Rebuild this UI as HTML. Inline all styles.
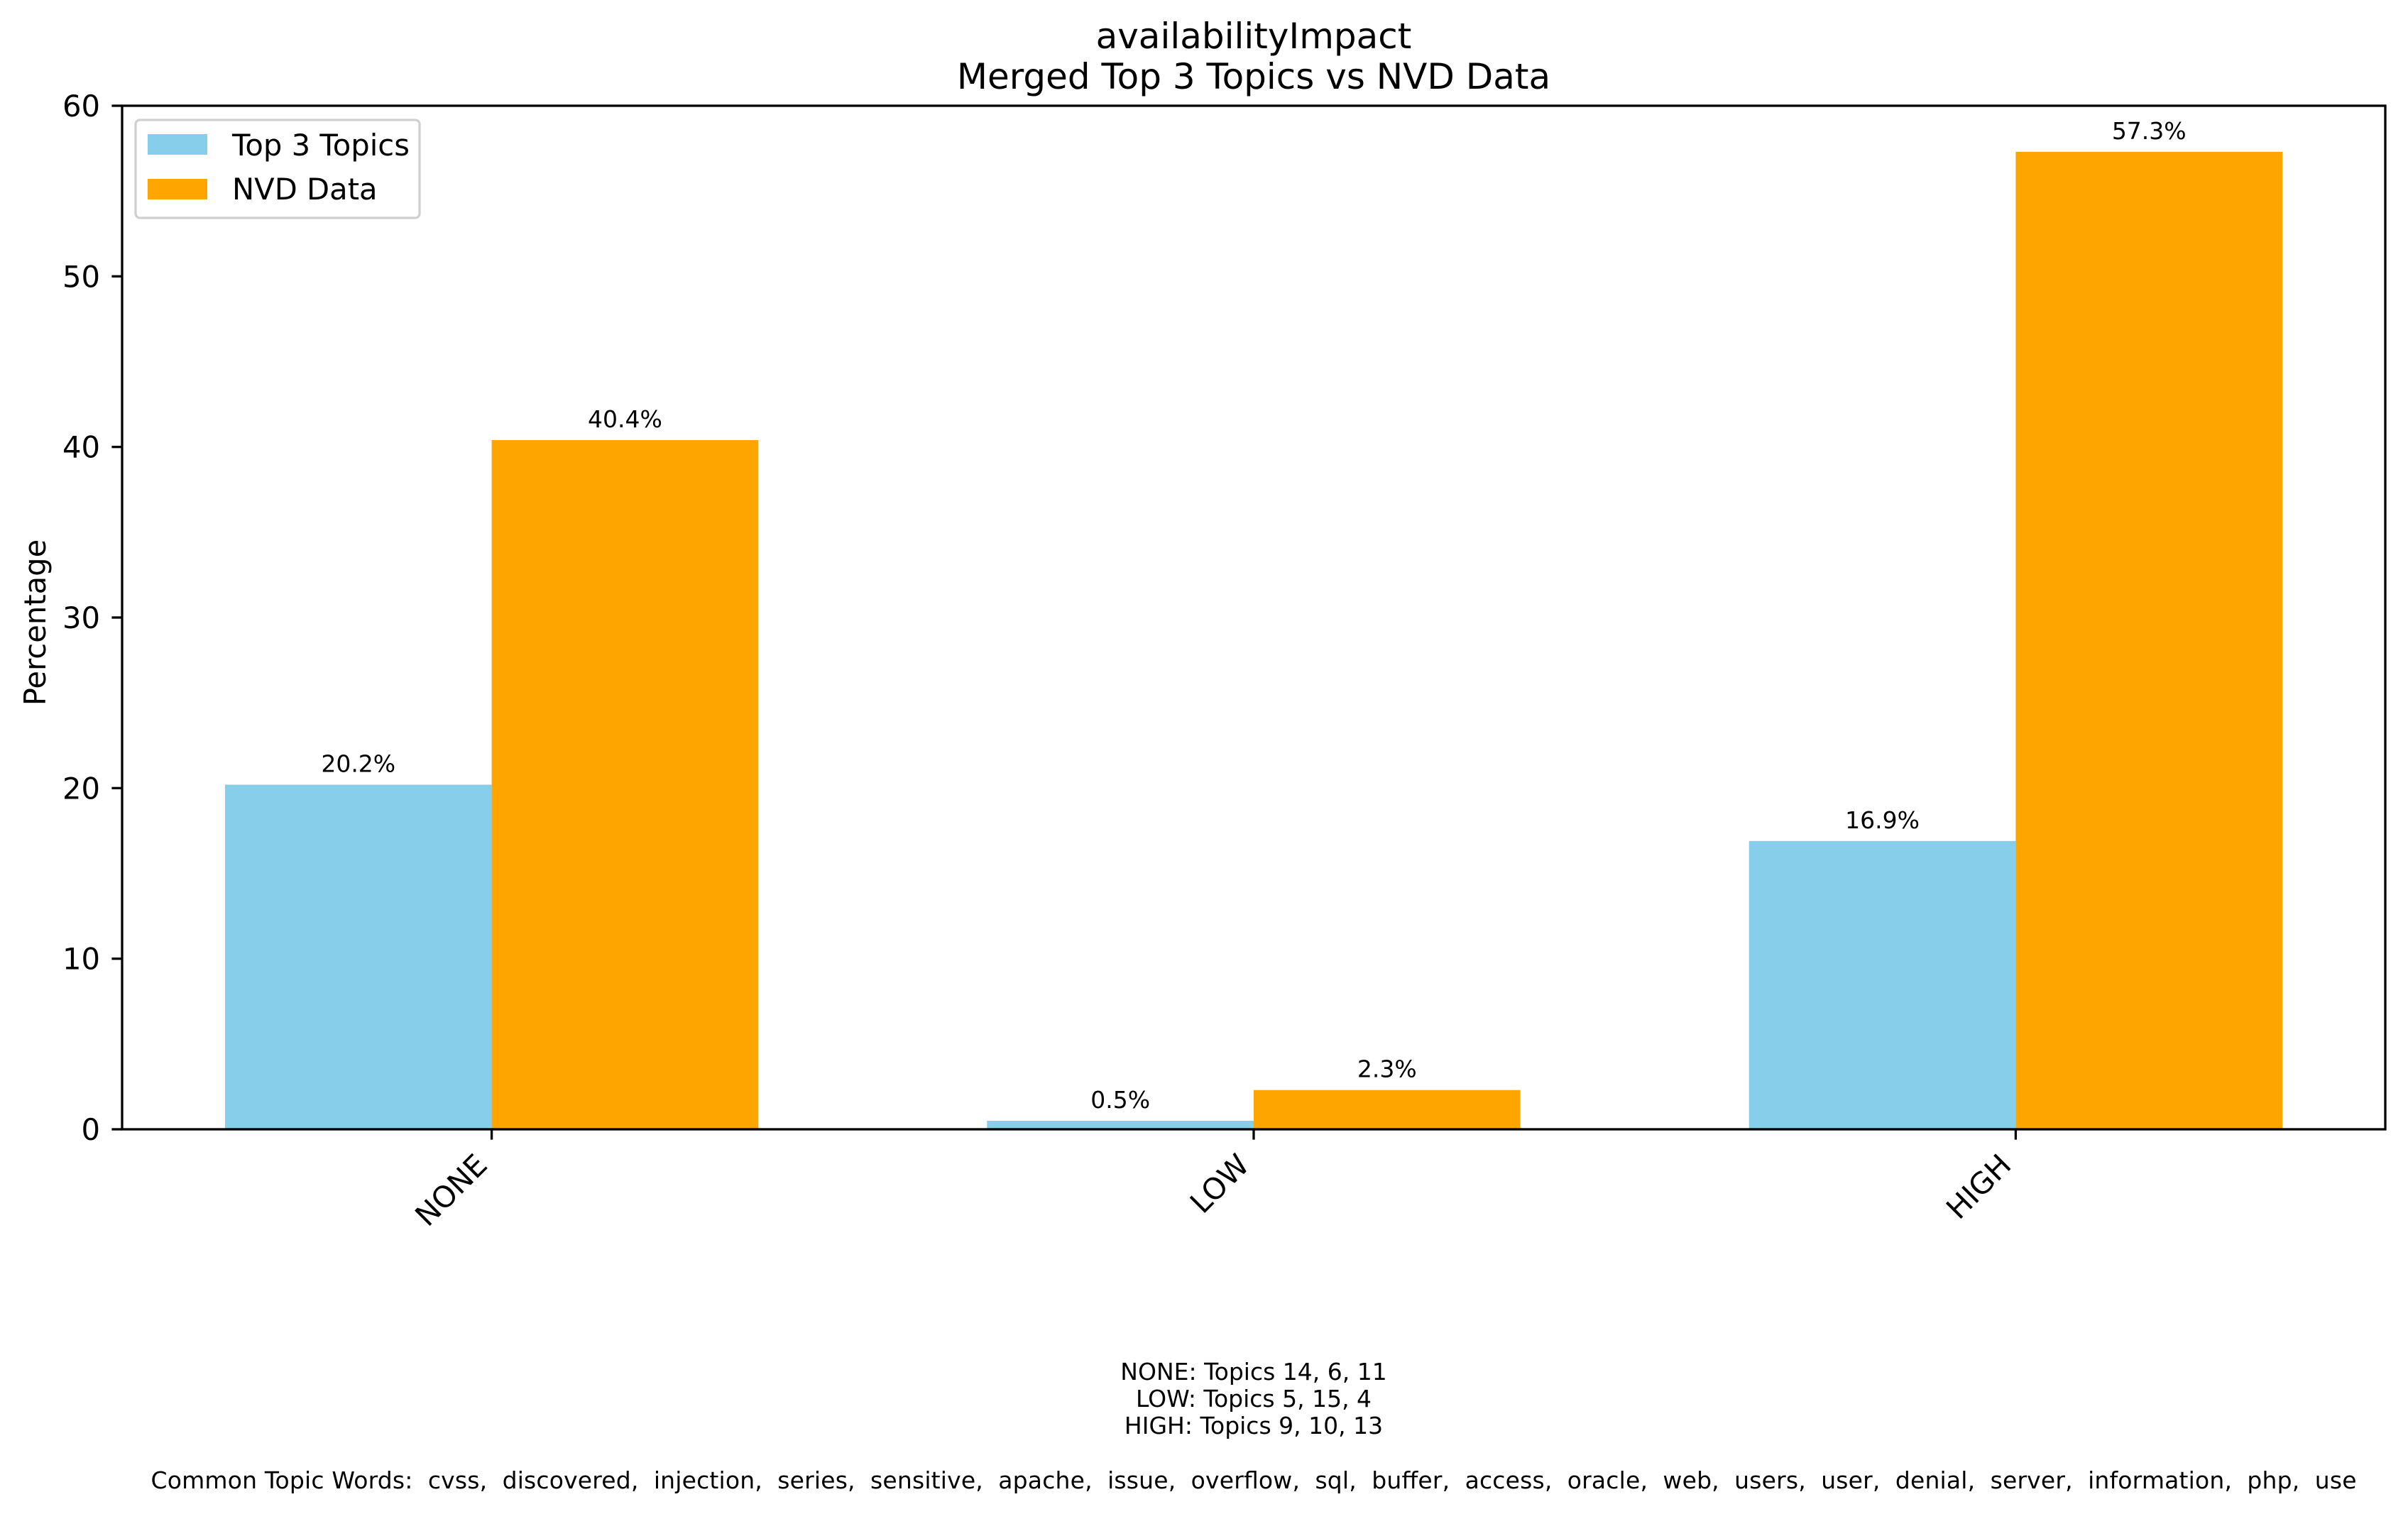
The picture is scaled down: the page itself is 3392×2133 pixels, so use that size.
<!DOCTYPE html>
<html><head><meta charset="utf-8"><style>
html,body{margin:0;padding:0;background:#fff;}
svg{display:block;font-family:"DejaVu Sans","Liberation Sans",sans-serif;}
</style></head><body>
<svg id="chart" width="3392" height="2133" viewBox="0 0 3392 2133" xmlns="http://www.w3.org/2000/svg">
<rect width="3392" height="2133" fill="#fff"/>
<text x="1766" y="68" font-size="50" text-anchor="middle">availabilityImpact</text>
<text x="1766" y="125" font-size="50" text-anchor="middle">Merged Top 3 Topics vs NVD Data</text>
<g id="bars"></g>
<g id="yticks"></g>
<g id="xticks"></g>
<rect x="172" y="149" width="3188" height="1442" fill="none" stroke="#000" stroke-width="3.3"/>
<text x="0" y="0" font-size="41.7" text-anchor="middle" transform="translate(64,877) rotate(-90)">Percentage</text>
<g>
<rect x="191" y="169" width="400" height="138" rx="6" fill="#fff" fill-opacity="0.8" stroke="#d0d0d0" stroke-width="3.3"/>
<rect x="208" y="189" width="84" height="29" fill="#87ceeb"/>
<text x="327" y="219" font-size="41.7">Top 3 Topics</text>
<rect x="208" y="252" width="84" height="29" fill="#ffa500"/>
<text x="327" y="281" font-size="41.7">NVD Data</text>
</g>
<g font-size="33" text-anchor="middle">
<text x="1766" y="1944">NONE: Topics 14, 6, 11</text>
<text x="1766" y="1982">LOW: Topics 5, 15, 4</text>
<text x="1766" y="2020">HIGH: Topics 9, 10, 13</text>
<text x="1766" y="2097" textLength="3107" lengthAdjust="spacing" style="white-space:pre" xml:space="preserve">Common Topic Words:  cvss,  discovered,  injection,  series,  sensitive,  apache,  issue,  overflow,  sql,  buffer,  access,  oracle,  web,  users,  user,  denial,  server,  information,  php,  use</text>
</g>
</svg>
<script>
const categories = ["NONE", "LOW", "HIGH"];
const top3Values = [20.2, 0.5, 16.9];
const nvdValues = [40.4, 2.3, 57.3];
const yTicks = [0, 10, 20, 30, 40, 50, 60];

const NS = "http://www.w3.org/2000/svg";
const X0 = 172, X1 = 3360, Y0 = 1591, Y1 = 149;
const xMin = -0.485, xMax = 2.485, yMin = 0, yMax = 60;
const barW = 0.35;
function xs(v){ return X0 + (v - xMin) / (xMax - xMin) * (X1 - X0); }
function ys(v){ return Y0 - (v - yMin) / (yMax - yMin) * (Y0 - Y1); }
function mk(tag, attrs){ const e = document.createElementNS(NS, tag); for (const k in attrs) e.setAttribute(k, attrs[k]); return e; }

const bars = document.getElementById('bars');
function drawSeries(vals, offset, color, key){
  vals.forEach((v, i) => {
    const xl = xs(i + offset - barW/2), xr = xs(i + offset + barW/2);
    const r = mk('rect', {x: xl, y: ys(v), width: xr - xl, height: ys(0) - ys(v), fill: color});
    
    
    bars.appendChild(r);
    const t = mk('text', {x: (xl + xr)/2, y: ys(v) - 18, 'font-size': 33, 'text-anchor': 'middle'});
    
    
    t.textContent = v.toFixed(1) + '%';
    bars.appendChild(t);
  });
}
drawSeries(top3Values, -barW/2, '#87ceeb', 'top3');
drawSeries(nvdValues, barW/2, '#ffa500', 'nvd');

const yg = document.getElementById('yticks');
yTicks.forEach(v => {
  const y = ys(v);
  const l = mk('line', {x1: X0 - 14.6, x2: X0, y1: y, y2: y, stroke: '#000', 'stroke-width': 3.3});
  
  
  yg.appendChild(l);
  const t = mk('text', {x: 141, y: y + 15, 'font-size': 41.7, 'text-anchor': 'end'});
  
  
  t.textContent = v;
  yg.appendChild(t);
});

const xg = document.getElementById('xticks');
categories.forEach((c, i) => {
  const x = xs(i);
  const l = mk('line', {x1: x, x2: x, y1: Y0, y2: Y0 + 14.6, stroke: '#000', 'stroke-width': 3.3});
  
  
  xg.appendChild(l);
  const t = mk('text', {x: 0, y: 0, 'font-size': 41.7, 'text-anchor': 'end', transform: 'translate(' + (x - 4) + ',1644) rotate(-45)'});
  
  
  t.textContent = c;
  xg.appendChild(t);
});
</script>
</body></html>
